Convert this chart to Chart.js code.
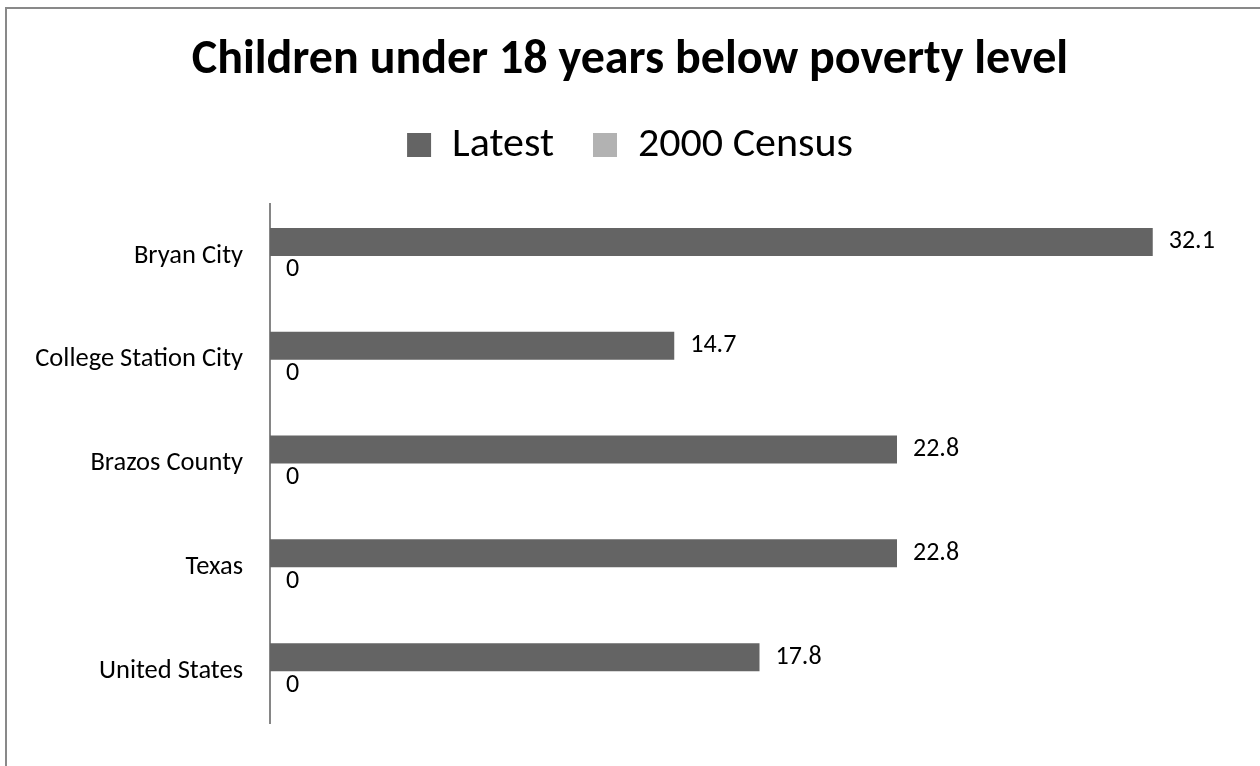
<!DOCTYPE html>
<html>
<head>
<meta charset="utf-8">
<title>Children under 18 years below poverty level</title>
<script src="https://cdn.jsdelivr.net/npm/chart.js@4.4.1/dist/chart.umd.min.js"></script>
<style>
  html, body { margin: 0; padding: 0; background: #fff; }
  #wrap { position: relative; width: 1260px; height: 766px; overflow: hidden; }
  #frame {
    position: absolute; left: 5px; top: 7px; right: -10px; bottom: -10px;
    border-left: 2px solid #898989; border-top: 2px solid #898989;
    pointer-events: none;
  }
  canvas { position: absolute; left: 0; top: 0; }
</style>
</head>
<body>
<div id="wrap">
  <canvas id="chart" width="1260" height="766"></canvas>
  <div id="frame"></div>
</div>
<script>
const places = ['Bryan City', 'College Station City', 'Brazos County', 'Texas', 'United States']
const latest = [32.1, 14.7, 22.8, 22.8, 17.8]
const census2000 = [0, 0, 0, 0, 0]

const FONT = 'Carlito, Lato, "Liberation Sans", sans-serif'
Chart.defaults.font.family = FONT
Chart.defaults.color = '#000'

// value printed just past the end of each bar
const barLabels = {
  id: 'barLabels',
  afterDatasetsDraw(chart) {
    const ctx = chart.ctx
    ctx.save()
    ctx.font = '26px ' + FONT
    ctx.fillStyle = '#000'
    ctx.textAlign = 'left'
    ctx.textBaseline = 'middle'
    chart.data.datasets.forEach((ds, i) => {
      chart.getDatasetMeta(i).data.forEach((bar, j) => {
        ctx.fillText(String(ds.data[j]), bar.x + 16, bar.y)
      })
    })
    ctx.restore()
  }
}

// extra room between the legend and the plot
const legendGap = {
  id: 'legendGap',
  beforeInit(chart) {
    const fit = chart.legend.fit
    chart.legend.fit = function () {
      fit.call(this)
      this.height += 28
    }
  }
}

new Chart(document.getElementById('chart').getContext('2d'), {
  type: 'bar',
  data: {
    labels: places,
    datasets: [
      {
        label: 'Latest',
        data: latest,
        backgroundColor: '#646464',
        borderWidth: 0,
        barPercentage: 1,
        categoryPercentage: 0.54,
      },
      {
        label: '2000 Census',
        data: census2000,
        backgroundColor: '#b2b2b2',
        borderWidth: 0,
        barPercentage: 1,
        categoryPercentage: 0.54,
      },
    ],
  },
  options: {
    indexAxis: 'y',
    responsive: false,
    animation: false,
    layout: {
      padding: {left: 0, right: 0, top: 0, bottom: 24}
    },
    scales: {
      x: {
        display: false,
        min: 0,
        max: 36,
      },
      y: {
        grid: {display: false, drawTicks: false},
        border: {display: true, color: '#868686', width: 2},
        ticks: {padding: 27, color: '#000', font: {size: 26.5}},
        afterFit(scale) {
          scale.width = 270
        }
      }
    },
    plugins: {
      title: {
        display: true,
        text: 'Children under 18 years below poverty level',
        color: '#000',
        font: {size: 48, weight: 'bold', lineHeight: 1},
        padding: {top: 37, bottom: 0}
      },
      legend: {
        labels: {
          boxWidth: 24,
          boxHeight: 24,
          padding: 39,
          color: '#000',
          font: {size: 42}
        }
      },
      tooltip: {enabled: false}
    }
  },
  plugins: [barLabels, legendGap]
})
</script>
</body>
</html>
